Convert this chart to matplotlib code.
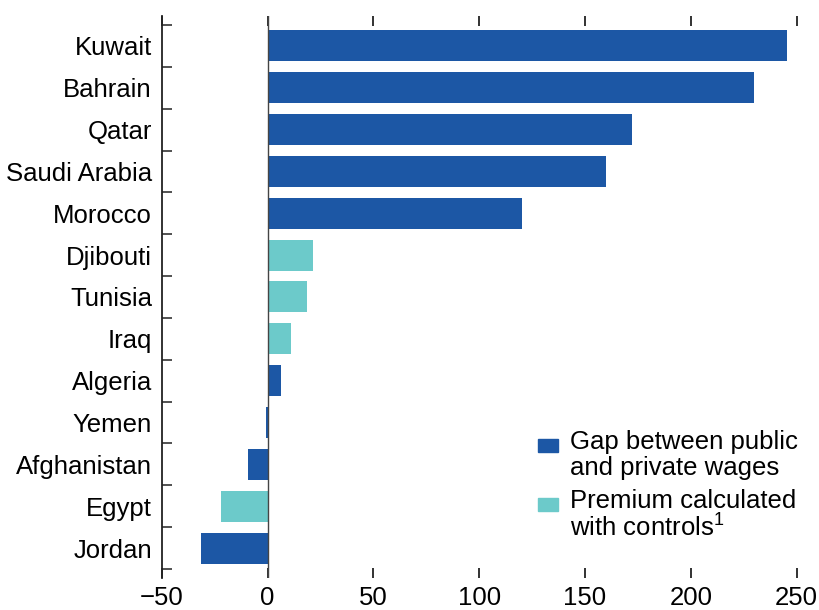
import matplotlib
matplotlib.use("Agg")
import matplotlib.pyplot as plt
from matplotlib.patches import Rectangle
from matplotlib.ticker import FixedLocator

plt.rcParams['font.family'] = ['Liberation Sans', 'DejaVu Sans']
plt.rcParams['mathtext.fontset'] = 'custom'
plt.rcParams['mathtext.rm'] = 'Liberation Sans'
plt.rcParams['mathtext.it'] = 'Liberation Sans'

# Data
countries = ["Kuwait", "Bahrain", "Qatar", "Saudi Arabia", "Morocco", "Djibouti",
             "Tunisia", "Iraq", "Algeria", "Yemen", "Afghanistan", "Egypt", "Jordan"]
values = [245.5, 230, 172, 160, 120, 21.5, 18.5, 11, 6.5, -0.8, -9, -22, -31.5]
series = ["gap", "gap", "gap", "gap", "gap", "premium", "premium", "premium",
          "gap", "gap", "gap", "premium", "gap"]
legend_labels = {"gap": "Gap between public\nand private wages",
                 "premium": "Premium calculated\nwith controls$^1$"}
x_ticks = [-50, 0, 50, 100, 150, 200, 250]

colors = {"gap": "#1c57a5", "premium": "#6ccaca"}
FS = 18.5

fig = plt.figure(figsize=(8.2, 6.1), dpi=100)
ax = fig.add_axes([0.1972, 0.0525, 0.7873, 0.9213])

ypos = list(range(len(countries)))
ax.barh(ypos, values, height=0.74, color=[colors[s] for s in series], zorder=2)
ax.axvline(0, color="#444444", lw=1.0, zorder=3)

ax.set_xlim(-50, 255)
ax.set_ylim(len(countries) - 0.5 + 0.215, -0.5 - 0.215)

for s in ["right", "bottom", "top"]:
    ax.spines[s].set_visible(False)
ax.spines["left"].set_color("#222222")
ax.spines["left"].set_linewidth(1.3)

ax.set_yticks(ypos)
ax.set_yticklabels(countries, fontsize=FS)
ax.tick_params(axis="y", which="major", length=0, pad=7)
ax.yaxis.set_minor_locator(FixedLocator([i - 0.5 for i in range(len(countries) + 1)]))
ax.tick_params(axis="y", which="minor", direction="in", length=7.5, width=1.1, color="#222222")

ax.set_xticks(x_ticks)
ax.set_xticklabels([str(t).replace("-", "\u2212") for t in x_ticks], fontsize=FS)
ax.tick_params(axis="x", which="major", direction="in", length=7.5, width=1.3,
               color="#222222", top=True, bottom=True, pad=6)

# Legend drawn manually
lx_box = 538 / 820
lx_txt = 570 / 820
entries = [("gap", 445), ("premium", 504)]
for key, ycen in entries:
    fig.patches.append(Rectangle((lx_box, 1 - (ycen + 6.5) / 610), 20 / 820, 13 / 610,
                                 transform=fig.transFigure, color=colors[key]))
    fig.text(lx_txt, 1 - (ycen - 15) / 610, legend_labels[key], fontsize=FS,
             va="top", ha="left", linespacing=1.08)

fig.savefig("out.png", dpi=100)
